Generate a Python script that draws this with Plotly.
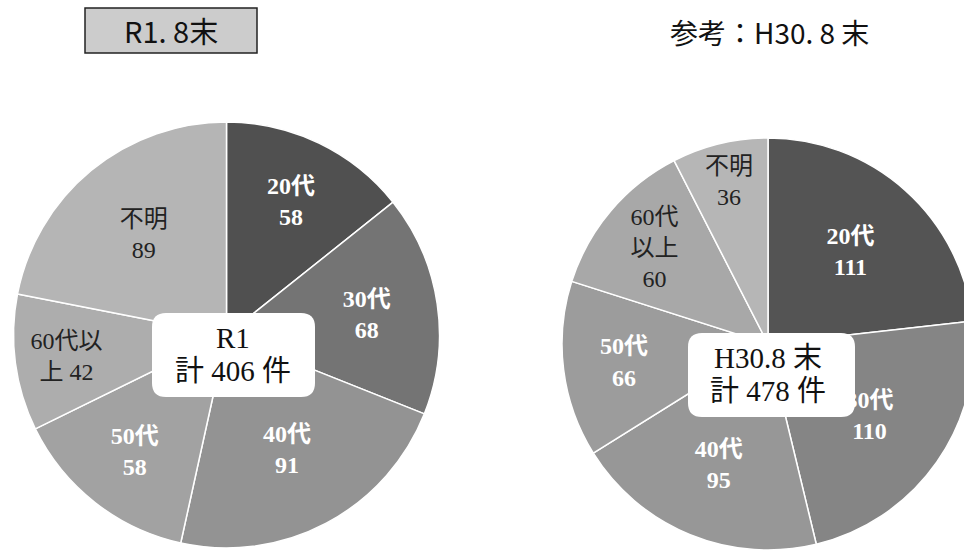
import plotly.graph_objects as go

# ---- data ----
categories = ["20代", "30代", "40代", "50代", "60代以上", "不明"]
r1_values = [58, 68, 91, 58, 42, 89]
h30_values = [111, 110, 95, 66, 60, 36]
r1_labels_text = ["20代<br>58", "30代<br>68", "40代<br>91", "50代<br>58", "60代以<br>上 42", "不明<br>89"]
h30_labels_text = ["20代<br>111", "30代<br>110", "40代<br>95", "50代<br>66", "60代<br>以上<br>60", "不明<br>36"]
r1_title = "R1. 8末"
h30_title = "参考：H30. 8 末"
r1_center_lines = ["R1", "計 406 件"]
h30_center_lines = ["H30.8 末", "計 478 件"]

# ---- styles ----
W, H = 980, 556
r1_colors = ["#505050", "#747474", "#939393", "#a2a2a2", "#adadad", "#b5b5b5"]
h30_colors = ["#545454", "#858585", "#979797", "#9c9c9c", "#a8a8a8", "#b6b6b6"]
r1_txt = ["white", "white", "white", "white", "#222", "#222"]
h30_txt = ["white", "white", "white", "white", "#222", "#222"]
r1_wt = ["bold", "bold", "bold", "bold", "normal", "normal"]
h30_wt = ["bold", "bold", "bold", "bold", "normal", "normal"]
serif = "Liberation Serif, Noto Sans CJK JP"
gothic = "Noto Sans CJK JP"


def dom(x0, x1, y0, y1):
    return dict(x=[x0 / W, x1 / W], y=[1 - y1 / H, 1 - y0 / H])


fig = go.Figure()
fig.add_trace(go.Pie(
    labels=categories, values=r1_values, text=r1_labels_text,
    textinfo="text", textposition="inside", insidetextorientation="horizontal",
    sort=False, direction="clockwise", rotation=0,
    marker=dict(colors=r1_colors, line=dict(color="white", width=1.5)),
    insidetextfont=dict(family=serif, size=24, color=r1_txt, weight=r1_wt),
    domain=dom(13, 440, 122, 548), showlegend=False, hoverinfo="label+value",
))
fig.add_trace(go.Pie(
    labels=categories, values=h30_values, text=h30_labels_text,
    textinfo="text", textposition="inside", insidetextorientation="horizontal",
    sort=False, direction="clockwise", rotation=0,
    marker=dict(colors=h30_colors, line=dict(color="white", width=1.5)),
    insidetextfont=dict(family=serif, size=24, color=h30_txt, weight=h30_wt),
    domain=dom(562, 974, 138, 550), showlegend=False, hoverinfo="label+value",
))

shapes = [
    dict(type="rect", xref="paper", yref="paper",
         x0=85 / W, x1=257 / W, y0=1 - 53 / H, y1=1 - 8 / H,
         fillcolor="#cccccc", line=dict(color="#222", width=1.5)),
]


def rounded_rect(x0, y0, x1, y1, r):
    def px(x):
        return x / W

    def py(y):
        return 1 - y / H
    rx, ry = r / W, r / H
    X0, X1, Y0, Y1 = px(x0), px(x1), py(y1), py(y0)
    return (f"M {X0 + rx},{Y0} L {X1 - rx},{Y0} Q {X1},{Y0} {X1},{Y0 + ry} "
            f"L {X1},{Y1 - ry} Q {X1},{Y1} {X1 - rx},{Y1} L {X0 + rx},{Y1} "
            f"Q {X0},{Y1} {X0},{Y1 - ry} L {X0},{Y0 + ry} Q {X0},{Y0} {X0 + rx},{Y0} Z")


shapes.append(dict(type="path", xref="paper", yref="paper",
                   path=rounded_rect(152, 313, 315, 397, 14),
                   fillcolor="white", line=dict(width=0)))
shapes.append(dict(type="path", xref="paper", yref="paper",
                   path=rounded_rect(688, 333, 855, 417, 14),
                   fillcolor="white", line=dict(width=0)))


def ann(text, x, y, font):
    return dict(text=text, x=x / W, y=1 - y / H, xref="paper", yref="paper",
                xanchor="center", yanchor="middle", showarrow=False, font=font)


cfont = dict(family=serif, size=29, color="#111")
annotations = [
    ann(r1_title, 171, 30, dict(family=gothic, size=29, color="#111")),
    ann(h30_title, 769, 32, dict(family=gothic, size=28, color="#111")),
    ann(r1_center_lines[0], 233, 338, cfont),
    ann(r1_center_lines[1], 233, 371, cfont),
    ann(h30_center_lines[0], 768, 358, cfont),
    ann(h30_center_lines[1], 768, 391, cfont),
]

fig.update_layout(
    width=W, height=H, margin=dict(l=0, r=0, t=0, b=0),
    paper_bgcolor="white", plot_bgcolor="white",
    shapes=shapes, annotations=annotations,
)

fig.write_html("out.html", config={"displayModeBar": False},
               post_script="document.body.style.overflow='hidden';document.body.style.margin='0';")
